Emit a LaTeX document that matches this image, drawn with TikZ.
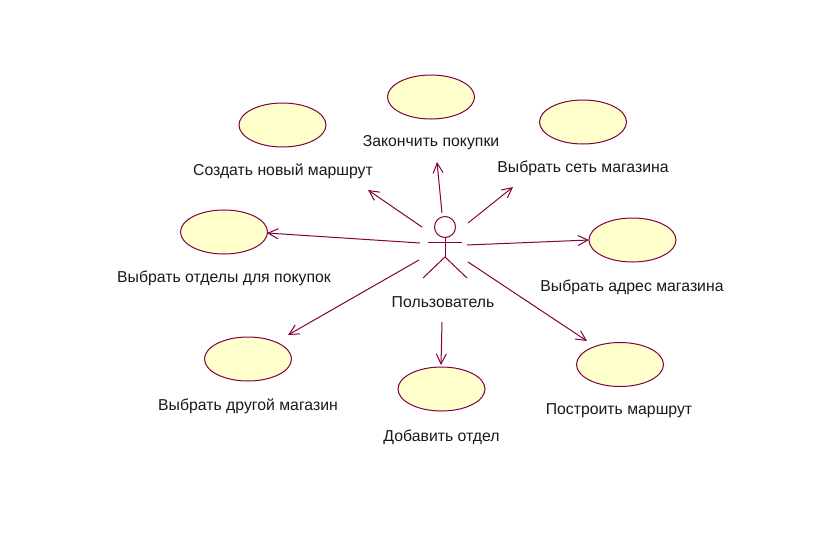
\documentclass[tikz,border=0pt]{standalone}
\usepackage{fontspec}
\setmainfont{Liberation Sans}
\usetikzlibrary{arrows.meta,shapes.geometric}
\definecolor{umlline}{RGB}{128,0,64}
\definecolor{umlfill}{RGB}{255,255,204}
\begin{document}
\begin{tikzpicture}[x=1pt,y=-1pt,
  usecase/.style={ellipse,draw=umlline,fill=umlfill,line width=1pt,minimum width=87pt,minimum height=44pt,inner sep=0pt},
  lbl/.style={font=\fontsize{15.8}{18}\selectfont,inner sep=0pt,text=black!90},
  assoc/.style={draw=umlline,line width=1pt,-{Straight Barb[length=10pt,width=10pt,line width=1pt]}},
  actorline/.style={draw=umlline,line width=1pt}]
\useasboundingbox (0,0) rectangle (814,544);
% use cases
\node[usecase] (uc1) at (282.5,125) {};
\node[usecase] (uc2) at (431,97) {};
\node[usecase] (uc3) at (583,122) {};
\node[usecase] (uc4) at (224,232) {};
\node[usecase] (uc5) at (632.5,240) {};
\node[usecase] (uc6) at (248,359) {};
\node[usecase] (uc7) at (441.5,389) {};
\node[usecase] (uc8) at (620,364.5) {};
% labels
\node[lbl] (l1) at (283,171) {Создать новый маршрут};
\node[lbl] (l2) at (431,143) {Закончить покупки};
\node[lbl] (l3) at (583,168) {Выбрать сеть магазина};
\node[lbl] (l4) at (224,278) {Выбрать отделы для покупок};
\node[lbl] (l5) at (632,287) {Выбрать адрес магазина};
\node[lbl] (l6) at (248,406) {Выбрать другой магазин};
\node[lbl] (l7) at (441.5,437) {Добавить отдел};
\node[lbl] (l8) at (619,411) {Построить маршрут};
\node[lbl] (la) at (443,302) {Пользователь};
% actor
\node[circle,draw=umlline,line width=1pt,minimum size=21pt,inner sep=0pt] (head) at (445,227) {};
\coordinate (hip) at (445,257);
\coordinate (armL) at (428,242);
\coordinate (armR) at (462,242);
\coordinate (legL) at (423,278);
\coordinate (legR) at (467,278);
\draw[actorline] (head.south) -- (hip);
\draw[actorline] (armL) -- (armR);
\draw[actorline] (legL) -- (hip) -- (legR);
% association start points
\coordinate (s1) at (422,227);
\coordinate (s2) at (442,213);
\coordinate (s3) at (468,223);
\coordinate (s4) at (420,243);
\coordinate (s5) at (467,245);
\coordinate (s6) at (419,260);
\coordinate (s7) at (442,322);
\coordinate (s8) at (468,262);
% association end points
\coordinate (e1) at (368,190);
\coordinate (e2) at (437,162);
\coordinate (e3) at (513,187);
\coordinate (e4) at (267,233);
\coordinate (e5) at (589,240);
\coordinate (e6) at (288,335);
\coordinate (e7) at (441,365);
\coordinate (e8) at (587,341);
\draw[assoc] (s1) -- (e1);
\draw[assoc] (s2) -- (e2);
\draw[assoc] (s3) -- (e3);
\draw[assoc] (s4) -- (e4);
\draw[assoc] (s5) -- (e5);
\draw[assoc] (s6) -- (e6);
\draw[assoc] (s7) -- (e7);
\draw[assoc] (s8) -- (e8);
\end{tikzpicture}
\end{document}
